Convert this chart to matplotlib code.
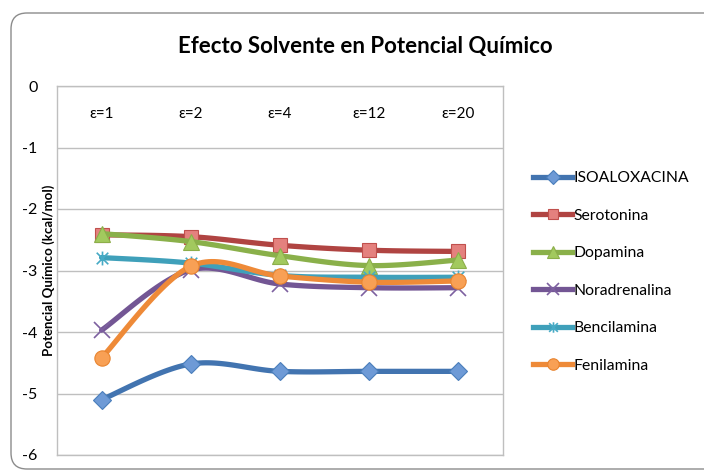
import numpy as np
import matplotlib
matplotlib.use("Agg")
import matplotlib.pyplot as plt
from matplotlib.path import Path
from matplotlib.patches import FancyBboxPatch
from matplotlib.lines import Line2D
from matplotlib.transforms import IdentityTransform

plt.rcParams['font.family'] = ['Lato', 'DejaVu Sans']

categories = ['ε=1', 'ε=2', 'ε=4', 'ε=12', 'ε=20']
series_names = ['ISOALOXACINA', 'Serotonina', 'Dopamina', 'Noradrenalina', 'Bencilamina', 'Fenilamina']
isoaloxacina = [-5.10, -4.52, -4.64, -4.64, -4.64]
serotonina = [-2.42, -2.45, -2.59, -2.67, -2.69]
dopamina = [-2.40, -2.53, -2.76, -2.92, -2.83]
noradrenalina = [-3.97, -2.99, -3.22, -3.28, -3.28]
bencilamina = [-2.79, -2.88, -3.08, -3.11, -3.11]
fenilamina = [-4.42, -2.93, -3.09, -3.19, -3.17]
values = [isoaloxacina, serotonina, dopamina, noradrenalina, bencilamina, fenilamina]

yticks = [0, -1, -2, -3, -4, -5, -6]

line_colors = ['#4274B0', '#B04442', '#8AB04A', '#735694', '#3FA0BA', '#EE8A38']
face_colors = ['#6E9AD6', '#E4817E', '#A2C95E', 'none', 'none', '#F8A055']
edge_colors = ['#4A7EBB', '#C0504D', '#8CAE4A', '#7D60A0', '#46AAC5', '#E8842F']

asterisk = Path([(-1, -1), (1, 1), (-1, 1), (1, -1), (0, -1.2), (0, 1.2)],
                [Path.MOVETO, Path.LINETO, Path.MOVETO, Path.LINETO, Path.MOVETO, Path.LINETO])
markers = ['D', 's', '^', 'x', asterisk, 'o']
msizes = [9.5, 10, 11, 11, 10, 11]
mews = [0.8, 0.8, 0.8, 1.2, 1.2, 0.8]


def smooth(xs, ys, n=30):
    pts = np.column_stack([xs, ys]).astype(float)
    out = []
    m = len(pts)
    for i in range(m - 1):
        p0 = pts[i - 1] if i > 0 else pts[i]
        p1 = pts[i]
        p2 = pts[i + 1]
        p3 = pts[i + 2] if i + 2 < m else pts[i + 1]
        c1 = p1 + (p2 - p0) / 6.0
        c2 = p2 - (p3 - p1) / 6.0
        t = np.linspace(0, 1, n, endpoint=(i == m - 2))[:, None]
        seg = ((1 - t) ** 3) * p1 + 3 * ((1 - t) ** 2) * t * c1 + 3 * (1 - t) * t ** 2 * c2 + t ** 3 * p2
        out.append(seg)
    out = np.vstack(out)
    return out[:, 0], out[:, 1]


W, H = 704, 471
fig = plt.figure(figsize=(W / 100, H / 100), dpi=100)

frame = FancyBboxPatch((11, 2), 720, H - 13 - 2, boxstyle="round,pad=0,rounding_size=16",
                       transform=IdentityTransform(), facecolor='white', edgecolor='#8C8C8C',
                       linewidth=1.0, zorder=-5)
fig.patches.append(frame)

ax = fig.add_axes([57 / W, 16 / H, 446 / W, 369 / H])
ax.set_zorder(2)
ax.patch.set_alpha(0)
ax.set_xlim(-0.5, 4.5)
ax.set_ylim(-6, 0)

x = np.arange(len(categories))
handles = []
for k, (name, vals) in enumerate(zip(series_names, values)):
    sx, sy = smooth(x, vals)
    ax.plot(sx, sy, color=line_colors[k], lw=3.8, solid_capstyle='round', zorder=3 + k)
    ax.plot(x, vals, linestyle='none', marker=markers[k], markersize=msizes[k],
            markerfacecolor=face_colors[k], markeredgecolor=edge_colors[k],
            markeredgewidth=mews[k], zorder=3 + k)
    handles.append(Line2D([], [], color=line_colors[k], lw=3.8, marker=markers[k],
                          markersize=msizes[k] * 0.75, markerfacecolor=face_colors[k],
                          markeredgecolor=edge_colors[k], markeredgewidth=mews[k]))

ax.set_yticks(yticks)
ax.set_yticklabels([str(v) for v in yticks], fontsize=11.5)
ax.tick_params(axis='y', length=0, pad=14)
ax.grid(axis='y', color='#BFBFBF', lw=1)
ax.set_axisbelow(True)

ax.xaxis.tick_top()
ax.set_xticks(x)
ax.set_xticklabels(categories, fontsize=11)
ax.tick_params(axis='x', length=0, pad=-25)

for s in ax.spines.values():
    s.set_color('#BFBFBF')
    s.set_linewidth(1)

ax.set_ylabel('Potencial Químico (kcal/mol)', fontsize=9.5, fontweight='bold')
ax.yaxis.set_label_coords(-0.004, 0.5)

fig.text(365 / W, 1 - 47 / H, 'Efecto Solvente en Potencial Químico', ha='center', va='center',
         fontsize=16, fontweight='bold')

fig.legend(handles, series_names, loc='center left', bbox_to_anchor=(533 / W, 1 - 272 / H),
           frameon=False, fontsize=11.3, handlelength=2.5, handletextpad=0.1,
           labelspacing=1.5, borderpad=0, borderaxespad=0)

fig.savefig('out.png', dpi=100)
